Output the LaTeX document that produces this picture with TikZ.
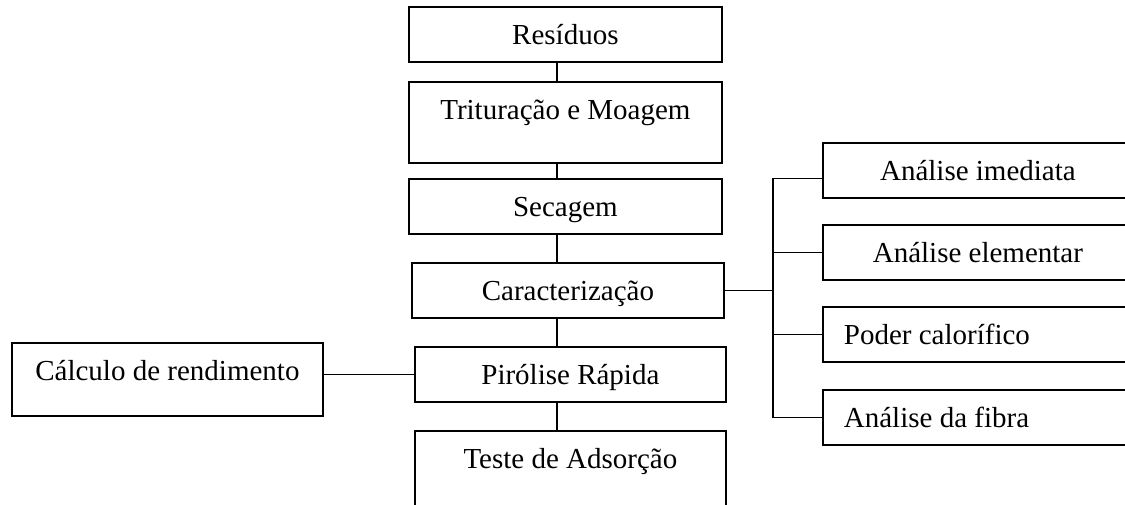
\documentclass[tikz,border=0pt]{standalone}
\usepackage{fontspec}
\setmainfont{Liberation Serif}
\usetikzlibrary{calc, positioning}

\begin{document}
\begin{tikzpicture}[x=1pt, y=-1pt, line width=1.8pt,
  stage/.style={draw, rectangle, anchor=north west, inner ysep=0pt,
    text height=38pt, text depth=17pt, font=\fontsize{29}{34}\selectfont},
  branch/.style={stage, minimum width=310pt, text width=268pt, inner xsep=21pt}]
\useasboundingbox (0,0) rectangle (1125,504);
\clip (0,0) rectangle (1125,504);
% main column
\node[stage, minimum width=313pt] (res) at (408,6) {Resíduos};
\node[stage, minimum width=313pt, text depth=43pt] (trit) at (408,81) {Trituração e Moagem};
\node[stage, minimum width=313pt] (sec) at (408,178) {Secagem};
\node[stage, minimum width=312pt] (car) at (411,262) {Caracterização};
\node[stage, minimum width=311pt] (pir) at (414,346) {Pirólise Rápida};
\node[stage, minimum width=311pt, text depth=90pt] (tes) at (414,430) {Teste de Adsorção};
% side boxes
\node[stage, minimum width=311pt, text depth=35pt] (cal) at (11,342) {Cálculo de rendimento};
\node[branch, align=flush center] (imed) at (822,142) {Análise imediata};
\node[branch, align=flush center] (elem) at (822,224) {Análise elementar};
\node[branch, align=flush left] (pod) at (822,306) {Poder calorífico};
\node[branch, align=flush left] (fib) at (822,389) {Análise da fibra};
\coordinate (spine) at (557,0);
\coordinate (bus) at (773,0);
% connectors
\draw (res.south -| spine) -- (trit.north -| spine);
\draw (trit.south -| spine) -- (sec.north -| spine);
\draw (sec.south -| spine) -- (car.north -| spine);
\draw (car.south -| spine) -- (pir.north -| spine);
\draw (pir.south -| spine) -- (tes.north -| spine);
\draw (cal.east |- pir.west) -- (pir.west);
\draw (car.east) -- (car.east -| bus);
\draw ([yshift=-8pt]imed.west) -- ([yshift=-8pt]imed.west -| bus) -- (bus |- fib.west) -- (fib.west);
\draw (bus |- elem.west) -- (elem.west);
\draw (bus |- pod.west) -- (pod.west);
\end{tikzpicture}
\end{document}
